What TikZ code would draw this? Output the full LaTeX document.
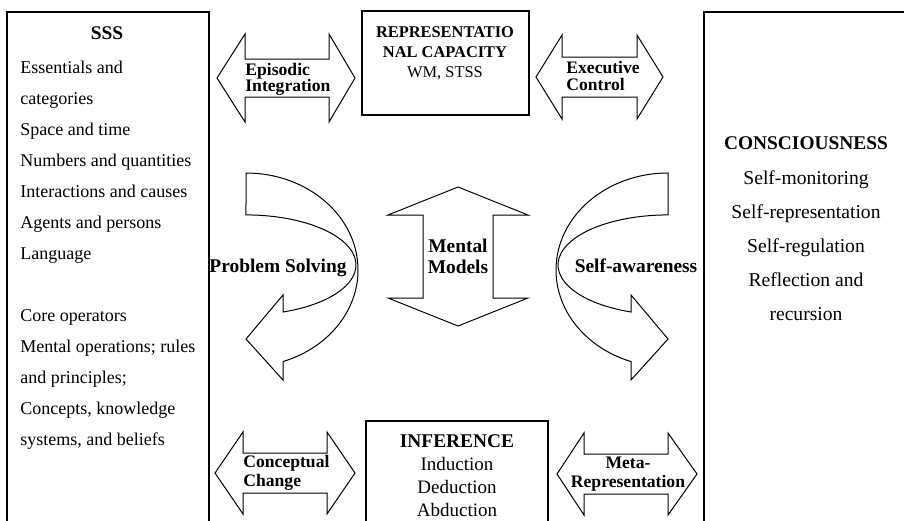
\documentclass[tikz,border=0pt]{standalone}
\usepackage{fontspec}
\setmainfont{Liberation Serif}
\begin{document}
\begin{tikzpicture}[x=0.5pt, y=-0.5pt,
    frame/.style={draw, line width=0.7pt},
    blockarrow/.style={draw, fill=white, line width=0.5pt, line join=miter},
    head/.style={font=\bfseries\fontsize{9.7}{11}\selectfont, inner sep=0pt, anchor=base},
    tag/.style={font=\bfseries\fontsize{8.8}{10}\selectfont, inner sep=0pt},
    caphead/.style={font=\bfseries\fontsize{8.2}{10}\selectfont, inner sep=0pt, anchor=base},
    item/.style={font=\fontsize{9}{11}\selectfont, inner sep=0pt, anchor=base west},
    ritem/.style={font=\fontsize{9.8}{11}\selectfont, inner sep=0pt, anchor=base}]
    \clip (0,0) rectangle (904,520);
    \draw[frame] (7,12) rectangle (209,540);
    \draw[frame] (704,12) rectangle (920,540);
    \draw[frame] (362,11) rectangle (529,115);
    \draw[frame] (366,421) rectangle (548,540);
    \foreach \a/\b/\c/\d/\m/\h/\s in {217/245/329/355/78/44/19, 536/562/637/663/77/42/20,
        215/243/327/355/473/41/20, 557/584/668/697/474/41/20}
        \draw[blockarrow] (\a,\m) -- (\b,\m-\h) -- (\b,\m-\s) -- (\c,\m-\s) -- (\c,\m-\h) -- (\d,\m)
            -- (\c,\m+\h) -- (\c,\m+\s) -- (\b,\m+\s) -- (\b,\m+\h) -- cycle;
    \draw[blockarrow] (458,187) -- (528,215) -- (493,215) -- (493,298) -- (528,298) -- (458,326)
        -- (388,298) -- (423,298) -- (423,215) -- (388,215) -- cycle;
    \draw[blockarrow] (246,173) arc[start angle=-90, end angle=70.71, x radius=112, y radius=97]
        -- (283,380) -- (246,339) -- (283,295) -- (283,312)
        arc[start angle=70.34, end angle=-90, x radius=110, y radius=50] -- cycle;
    \draw[blockarrow] (668,173) arc[start angle=-90, end angle=-250.71, x radius=112, y radius=97]
        -- (631,380) -- (668,339) -- (631,295) -- (631,312)
        arc[start angle=109.66, end angle=270, x radius=110, y radius=50] -- cycle;
    \node[head] (sss) at (107,39) {SSS};
    \foreach \t [count=\i from 0] in {Essentials and, categories, Space and time, Numbers and quantities,
        Interactions and causes, Agents and persons, Language}
        \node[item] (sss-\i) at (20,73+31*\i) {\t};
    \foreach \t [count=\i from 8] in {Core operators, {Mental operations; rules}, {and principles;},
        {Concepts, knowledge}, {systems, and beliefs}}
        \node[item] (sss-\i) at (20,73+31*\i) {\t};
    \node[head] (cons) at (806,149) {CONSCIOUSNESS};
    \foreach \t [count=\i from 0] in {Self-monitoring, Self-representation, Self-regulation,
        Reflection and, recursion}
        \node[ritem] (cons-\i) at (806,184+34*\i) {\t};
    \node[caphead] (repr-1) at (445,37) {REPRESENTATIO};
    \node[caphead] (repr-2) at (445,57) {NAL CAPACITY};
    \node[caphead, font=\fontsize{8.2}{10}\selectfont] (repr-3) at (445,77) {WM, STSS};
    \node[head] (infer) at (457,447) {INFERENCE};
    \foreach \t [count=\i from 1] in {Induction, Deduction, Abduction}
        \node[ritem, font=\fontsize{9.5}{11}\selectfont] (infer-\i) at (457,447+23*\i) {\t};
    \node[tag, anchor=base west] (epi-1) at (245,75) {Episodic};
    \node[tag, anchor=base west] (epi-2) at (245,91) {Integration};
    \node[tag, anchor=base west] (exe-1) at (566,73) {Executive};
    \node[tag, anchor=base west] (exe-2) at (566,90) {Control};
    \node[tag, anchor=base west] (conc-1) at (243,467) {Conceptual};
    \node[tag, anchor=base west] (conc-2) at (243,486) {Change};
    \node[tag, anchor=base] (meta-1) at (628,468) {Meta-};
    \node[tag, anchor=base] (meta-2) at (628,487) {Representation};
    \node[head] (mm-1) at (458,252) {Mental};
    \node[head] (mm-2) at (458,273) {Models};
    \node[head] (ps) at (278,272) {Problem Solving};
    \node[head] (sa) at (636,272) {Self-awareness};
\end{tikzpicture}
\end{document}
